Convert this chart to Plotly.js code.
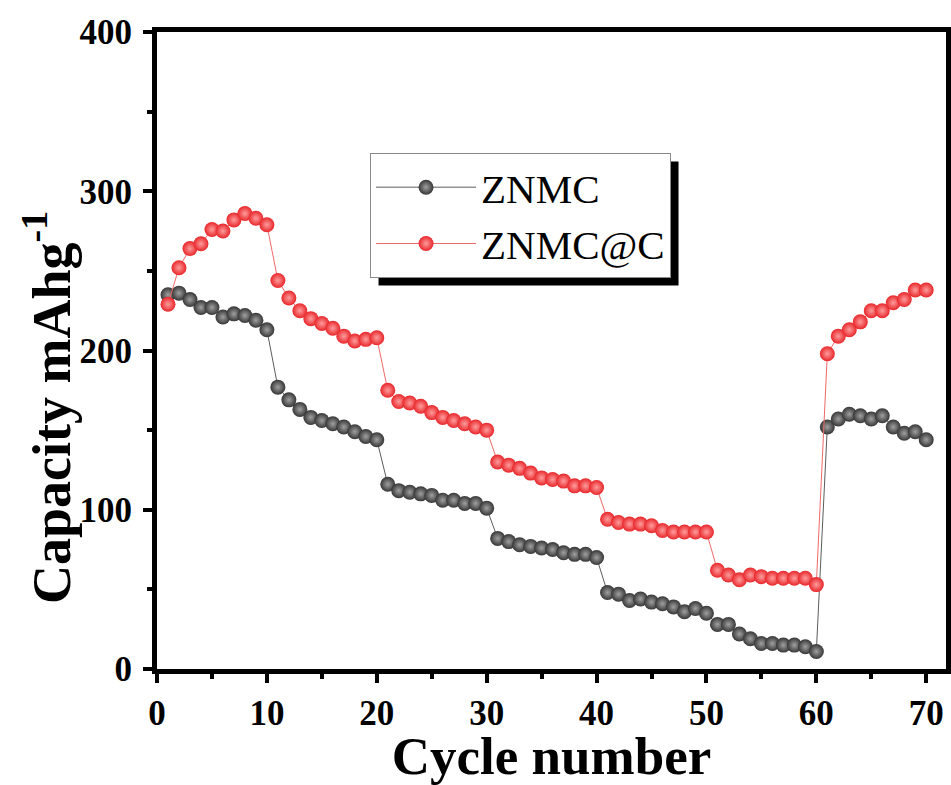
<!DOCTYPE html>
<html><head><meta charset="utf-8">
<script src="https://cdn.plot.ly/plotly-3.0.1.min.js"></script>
<style>html,body{margin:0;padding:0;background:#fff;}#chart{width:951px;height:785px;}</style>
</head><body><div id="chart"></div><script>
const cycles = [1,2,3,4,5,6,7,8,9,10,11,12,13,14,15,16,17,18,19,20,21,22,23,24,25,26,27,28,29,30,31,32,33,34,35,36,37,38,39,40,41,42,43,44,45,46,47,48,49,50,51,52,53,54,55,56,57,58,59,60,61,62,63,64,65,66,67,68,69,70];
const znmc = [235,236,232,227,227,221,223,222,219,213,
              177,169,163,158,156,154,152,149,146,144,
              116,112,111,110,109,106,106,104,104,101,
              82,80,78,77,76,75,73,72,72,70,
              48,47,43,44,42,41,39,36,38,35,
              28,28,22,19,16,16,15,15,14,11,
              152,157,160,159,157,159,152,148,149,144];
const znmcC = [229,252,264,267,276,275,282,286,283,279,
               244,233,225,220,217,214,209,206,207,208,
               175,168,167,165,161,158,156,154,152,150,
               130,128,126,123,120,119,118,115,115,114,
               94,92,91,91,90,87,86,86,86,86,
               62,59,56,59,58,57,57,57,57,53,
               198,209,213,218,225,225,230,232,238,238];
const seriesNames = ['ZNMC', 'ZNMC@C'];
const tickVals = [0,10,20,30,40,50,60,70];
const yTickVals = [0,100,200,300,400];
const xTitle = 'Cycle number';
const yTitle = 'Capacity mAhg<sup>-1</sup>';

const serif = 'Liberation Serif, Times New Roman, serif';
const traces = [
  {x: cycles, y: znmc, name: seriesNames[0], type: 'scatter', mode: 'lines+markers',
   line: {color: '#5c5c5c', width: 1},
   marker: {size: 15, color: '#363636', gradient: {type: 'radial', color: '#a0a0a0'}, line: {width: 0}}},
  {x: cycles, y: znmcC, name: seriesNames[1], type: 'scatter', mode: 'lines+markers',
   line: {color: '#f06868', width: 1},
   marker: {size: 15, color: '#e8262a', gradient: {type: 'radial', color: '#ff9c9c'}, line: {width: 0}}}
];
const axisCommon = {
  showline: true, linewidth: 5, linecolor: 'black', mirror: true,
  ticks: 'outside', ticklen: 9, tickwidth: 4, tickcolor: 'black',
  showgrid: false, zeroline: false, autorange: false
};
const layout = {
  width: 951, height: 785,
  margin: {l: 157, r: 5, t: 32, b: 116},
  paper_bgcolor: 'white', plot_bgcolor: 'white',
  showlegend: true,
  legend: {x: 0.27, y: 0.81, xanchor: 'left', yanchor: 'top', bgcolor: 'white',
    bordercolor: '#8a8a8a', borderwidth: 1, itemwidth: 100, tracegroupgap: 0,
    font: {family: serif, size: 41, color: 'black'}},
  xaxis: Object.assign({}, axisCommon, {
    range: [0, 71.8], tickmode: 'array', tickvals: tickVals,
    minor: {dtick: 5, tick0: 0, ticks: 'outside', ticklen: 5, tickwidth: 4, tickcolor: 'black'},
    tickfont: {family: serif, size: 35, color: 'black', weight: 'bold'},
    title: {text: xTitle, standoff: 16, font: {family: serif, size: 53, color: 'black', weight: 'bold'}}
  }),
  yaxis: Object.assign({}, axisCommon, {
    range: [0, 400], tickmode: 'array', tickvals: yTickVals,
    minor: {dtick: 50, tick0: 0, ticks: 'outside', ticklen: 5, tickwidth: 4, tickcolor: 'black'},
    tickfont: {family: serif, size: 35, color: 'black', weight: 'bold'},
    ticklabelstandoff: 4
  }),
  annotations: [{text: yTitle, xref: 'paper', yref: 'paper', x: -0.138, y: 0.41,
    xanchor: 'center', yanchor: 'middle', textangle: -90, showarrow: false,
    font: {family: serif, size: 54, color: 'black', weight: 'bold'}}]
};
Plotly.newPlot('chart', traces, layout, {displayModeBar: false, staticPlot: true}).then(function(gd){
  const bg = gd.querySelector('.legend .bg');
  if (!bg) return;
  const r = bg.getBoundingClientRect();
  const c = gd.getBoundingClientRect();
  const s = gd._fullLayout._size;
  const off = 8;
  const px2x = function(px){ return (px - c.left - s.l) / s.w; };
  const py2y = function(py){ return 1 - (py - c.top - s.t) / s.h; };
  Plotly.relayout(gd, {shapes: [{type: 'rect', xref: 'paper', yref: 'paper', layer: 'above',
    x0: px2x(r.left + off), x1: px2x(r.right + off), y0: py2y(r.top + off), y1: py2y(r.bottom + off),
    fillcolor: 'black', line: {width: 0}}]});
});
</script></body></html>
